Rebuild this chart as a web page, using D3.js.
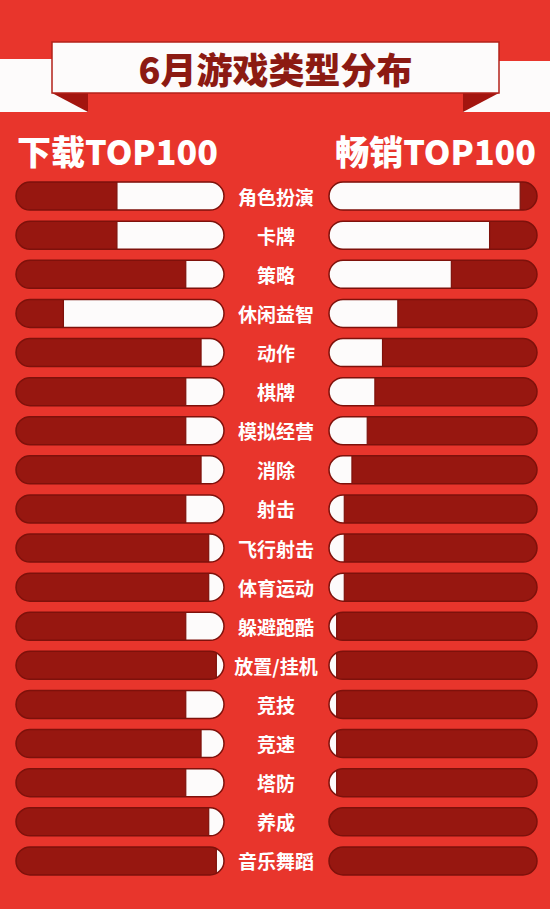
<!DOCTYPE html>
<html><head><meta charset="utf-8">
<script src="https://cdn.jsdelivr.net/npm/d3@7"></script>
<style>html,body{margin:0;padding:0;background:#e8352c;}svg{display:block;}</style>
</head><body>
<script>
const title = "6月游戏类型分布";
const leftHeading = "下载TOP100";
const rightHeading = "畅销TOP100";
const categories = ["角色扮演","卡牌","策略","休闲益智","动作","棋牌","模拟经营","消除","射击","飞行射击","体育运动","躲避跑酷","放置/挂机","竞技","竞速","塔防","养成","音乐舞蹈"];
const downloads = [14,14,5,21,3,5,5,3,5,2,2,5,1,5,3,5,2,1];
const sales = [25,21,16,9,7,6,5,3,2,2,2,1,1,1,1,1,0,0];

const W = 550, H = 909;
const BG = "#e8352c", TRACK = "#971710", EDGE = "#7e110b", WHITE = "#fdfbfb", DARK = "#8c1a12";
const FONT = "'Noto Sans CJK SC','Noto Sans',sans-serif";

const svg = d3.select("body").append("svg").attr("width", W).attr("height", H);
svg.append("rect").attr("width", W).attr("height", H).attr("fill", BG);

// ribbon
const rib = svg.append("g");
rib.append("rect").attr("x", -2).attr("y", 59).attr("width", 90).attr("height", 53).attr("fill", WHITE);
rib.append("rect").attr("x", 463).attr("y", 61).attr("width", 90).attr("height", 51).attr("fill", WHITE);
rib.append("path").attr("d", "M52,93 L88,93 L88,112 Z").attr("fill", "#a3150f");
rib.append("path").attr("d", "M463,93 L499,93 L463,112 Z").attr("fill", "#a3150f");
rib.append("rect").attr("x", 52).attr("y", 42).attr("width", 447).attr("height", 51)
  .attr("fill", WHITE).attr("stroke", "#b3221a").attr("stroke-width", 1.5);
rib.append("text").attr("x", 275.5).attr("y", 68).attr("text-anchor", "middle")
  .attr("dominant-baseline", "central").attr("font-family", FONT).attr("font-weight", 900)
  .attr("font-size", 36).attr("fill", DARK).text(title);

// headings
svg.append("text").attr("x", 17).attr("y", 150).attr("dominant-baseline", "central")
  .attr("font-family", FONT).attr("font-weight", 900).attr("font-size", 34).attr("fill", "#fff").text(leftHeading);
svg.append("text").attr("x", 536).attr("y", 150).attr("text-anchor", "end").attr("dominant-baseline", "central")
  .attr("font-family", FONT).attr("font-weight", 900).attr("font-size", 34).attr("fill", "#fff").text(rightHeading);

const trackW = 208;
const leftX0 = 16, rightX0 = 329;
const x = d3.scaleLinear().domain([0, 27.2]).range([0, trackW]);
const y = d3.scaleBand().domain(categories).range([171, 886]).padding(0.284);
const bh = y.bandwidth(), r = bh / 2;

const defs = svg.append("defs");
const rows = categories.map((c, i) => ({c, i, d: downloads[i], s: sales[i]}));

function side(name, x0, key, fromRight) {
  const g = svg.append("g");
  rows.forEach(row => {
    const yy = y(row.c);
    const id = `clip-${name}-${row.i}`;
    defs.append("clipPath").attr("id", id).append("rect")
      .attr("x", x0).attr("y", yy).attr("width", trackW).attr("height", bh).attr("rx", r).attr("ry", r);
    g.append("rect").attr("x", x0).attr("y", yy).attr("width", trackW).attr("height", bh)
      .attr("rx", r).attr("ry", r).attr("fill", TRACK);
    const w = x(row[key]);
    g.append("rect").attr("clip-path", `url(#${id})`)
      .attr("x", fromRight ? x0 + trackW - w : x0).attr("y", yy).attr("width", w).attr("height", bh)
      .attr("fill", WHITE);
    if (w > 0) {
      g.append("line").attr("clip-path", `url(#${id})`)
        .attr("x1", fromRight ? x0 + trackW - w : x0 + w).attr("x2", fromRight ? x0 + trackW - w : x0 + w)
        .attr("y1", yy).attr("y2", yy + bh).attr("stroke", EDGE).attr("stroke-width", 1.2);
    }
    g.append("rect").attr("x", x0).attr("y", yy).attr("width", trackW).attr("height", bh)
      .attr("rx", r).attr("ry", r).attr("fill", "none").attr("stroke", EDGE).attr("stroke-width", 1.5);
  });
}
side("l", leftX0, "d", true);
side("r", rightX0, "s", false);

svg.append("g").selectAll("text").data(categories).join("text")
  .attr("x", 276).attr("y", d => y(d) + bh / 2).attr("text-anchor", "middle").attr("dominant-baseline", "central")
  .attr("font-family", FONT).attr("font-weight", 700).attr("font-size", 19).attr("fill", "#fff").text(d => d);
</script>
</body></html>
